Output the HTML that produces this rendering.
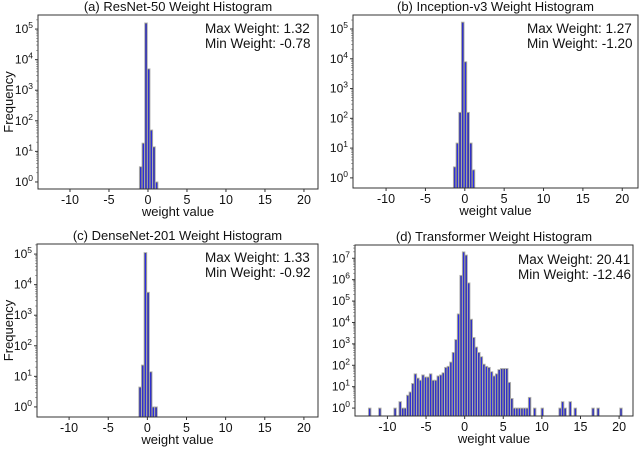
<!DOCTYPE html>
<html><head><meta charset="utf-8"><style>
body{margin:0;background:#fff;}
svg{display:block;font-family:"Liberation Sans",Arial,sans-serif;}
</style></head><body>
<svg id="fig" width="640" height="450" viewBox="0 0 640 450" xmlns="http://www.w3.org/2000/svg"></svg>
<script>
// Panel data: log10(frequency) per bin
const resnetLog = [0.5, 1.27, 5.2, 3.7, 1.7, 1.15, 0];
const inceptionLog = [0.37, 1.17, 2.2, 5.23, 3.9, 2.2, 1.17, 0.27];
const densenetLog = [0.65, 1.37, 5.05, 3.75, 1.15, 0, 0];
const transformerLog = [0,null,null,null,0,null,null,null,null,null,0,null,0.3,0,0,0.6,0.75,1.15,1.6,1.4,
 1.3,1.55,1.45,1.45,1.6,1.3,1.3,1.5,1.55,1.65,1.9,1.95,2.15,2.6,3.2,4.4,6.2,7.3,7.15,5.85,
 4.15,3.3,2.85,2.6,2.4,2.05,1.95,1.9,1.7,1.5,1.6,1.8,1.85,1.85,1.85,1.2,0.45,0,0,0,
 0,0,0,0.5,null,0,null,null,0,null,null,null,null,null,null,0,0.3,0,null,0.3,
 null,0,null,null,null,null,null,null,0,null,0,null,null,null,null,null,null,null,null,0];
const binStarts = [-1.1, -1.45, -1.1, -12.46];
const binWidths = [0.34, 0.34, 0.34, 0.3287];
const titles = ["(a) ResNet-50 Weight Histogram","(b) Inception-v3 Weight Histogram","(c) DenseNet-201 Weight Histogram","(d) Transformer Weight Histogram"];
const maxW = ["1.32","1.27","1.33","20.41"];
const minW = ["-0.78","-1.20","-0.92","-12.46"];
const xTicks = [-10,-5,0,5,10,15,20];
const yTicksA = [0,1,2,3,4,5];
const yTicksD = [0,1,2,3,4,5,6,7];

const NS="http://www.w3.org/2000/svg";
const svg=document.getElementById('fig');
function el(tag,attrs,parent){const e=document.createElementNS(NS,tag);for(const k in attrs)e.setAttribute(k,attrs[k]);(parent||svg).appendChild(e);return e;}

const panels=[
 {box:[38,15,318,189],xl:[-14.1,21.8],yl:[-0.23,5.46],data:resnetLog,yt:yTicksA,ylab:true,tx:205,ty:33},
 {box:[353,15,638,188],xl:[-14.2,22.0],yl:[-0.34,5.47],data:inceptionLog,yt:yTicksA,ylab:false,tx:527,ty:33},
 {box:[37,244,318,417],xl:[-14.1,21.8],yl:[-0.33,5.33],data:densenetLog,yt:yTicksA,ylab:true,tx:205,ty:262},
 {box:[355,245,633,416],xl:[-14.2,21.8],yl:[-0.37,7.62],data:transformerLog,yt:yTicksD,ylab:false,tx:518,ty:264}
];
const names=['resnet','inception','densenet','transformer'];
panels.forEach((p,pi)=>{
 const [x0,y0,x1,y1]=p.box;
 const g=el('g',{});
 
 
 const X=v=>x0+(v-p.xl[0])/(p.xl[1]-p.xl[0])*(x1-x0);
 const Y=v=>y1-(v-p.yl[0])/(p.yl[1]-p.yl[0])*(y1-y0);
 const w=binWidths[pi], s=binStarts[pi];
 p.data.forEach((v,i)=>{
  if(v===null) return;
  const bl=X(s+i*w), br=X(s+(i+1)*w), top=Y(v);
  const r=el('rect',{x:bl,y:top,width:br-bl,height:y1-top,fill:'#4a4a4a',stroke:'#b4b4b4','stroke-width':0.9},g);
  
  
  const bw=(br-bl)*0.4;
  const b=el('rect',{x:bl+(br-bl)*0.3,y:top+0.8,width:bw,height:y1-top-0.8,fill:'#2a2af0'},g);
  
  
 });
 const fr=el('rect',{x:x0,y:y0,width:x1-x0,height:y1-y0,fill:'none',stroke:'#333','stroke-width':1},g);
 
 
 xTicks.forEach(t=>{
  const x=X(t);
  el('line',{x1:x,y1:y1,x2:x,y2:y1+3,stroke:'#333','stroke-width':1},g);
  const tx=el('text',{x:x,y:y1+15,'text-anchor':'middle','font-size':12.5,fill:'#111'},g);
  tx.textContent=t;
  
  
 });
 p.yt.forEach(t=>{
  const y=Y(t);
  el('line',{x1:x0-3,y1:y,x2:x0,y2:y,stroke:'#333','stroke-width':1},g);
  for(let m=2;m<10;m++){const ym=Y(t+Math.log10(m)); if(ym>y0) el('line',{x1:x0-1.8,y1:ym,x2:x0,y2:ym,stroke:'#555','stroke-width':0.6},g);}
  const tx=el('text',{x:x0-5,y:y+4,'text-anchor':'end','font-size':12,fill:'#111'},g);
  
  
  tx.innerHTML='10<tspan dy="-5" font-size="8.5">'+t+'</tspan>';
 });
 const ttl=el('text',{x:(x0+x1)/2,y:y0-4,'text-anchor':'middle','font-size':13,fill:'#111'},g);
 ttl.textContent=titles[pi];
 
 
 const xl=el('text',{x:(x0+x1)/2,y:y1+27,'text-anchor':'middle','font-size':13,fill:'#111'},g);
 xl.textContent='weight value';
 
 
 if(p.ylab){
  const yl=el('text',{x:0,y:0,'text-anchor':'middle','font-size':13,fill:'#111',transform:'translate(13,'+((y0+y1)/2)+') rotate(-90)'},g);
  yl.textContent='Frequency';
  
  
 }
 const a1=el('text',{x:p.tx,y:p.ty,'font-size':13.5,fill:'#111'},g);
 a1.textContent='Max Weight: '+maxW[pi];
 
 
 const a2=el('text',{x:p.tx,y:p.ty+15,'font-size':13.5,fill:'#111'},g);
 a2.textContent='Min Weight: '+minW[pi];
 
 
});
</script>
</body></html>
